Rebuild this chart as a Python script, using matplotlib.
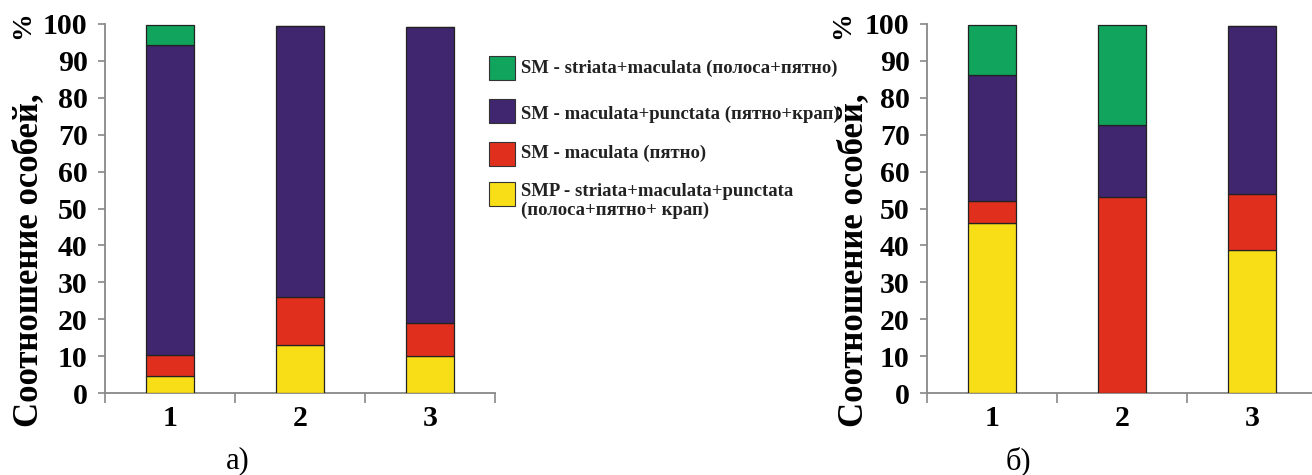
import numpy as np
import matplotlib.pyplot as plt
from matplotlib.patches import Rectangle

groups = ['1', '2', '3']
yticks = list(range(0, 101, 10))

# a) shares of individuals per morph, %
a_smp = [4.7, 12.9, 10.1]
a_m = [5.7, 13.0, 9.0]
a_mp = [83.9, 73.5, 80.2]
a_sm = [5.3, 0.0, 0.0]

# б)
b_smp = [46.2, 0.0, 38.8]
b_m = [5.9, 53.2, 15.2]
b_mp = [34.1, 19.4, 45.5]
b_sm = [13.4, 27.0, 0.0]

labels = ['SM - striata+maculata (полоса+пятно)',
          'SM - maculata+punctata (пятно+крап)',
          'SM - maculata (пятно)',
          'SMP - striata+maculata+punctata',
          '(полоса+пятно+ крап)']
colors = ['#10a45c', '#40256f', '#e0301d', '#f8de17']

plt.rcParams['font.family'] = ['Liberation Serif', 'DejaVu Serif']

fig = plt.figure(figsize=(13.12, 4.75), dpi=100)
W, H = 1312.0, 475.0
ax1 = fig.add_axes([105 / W, 1 - 393 / H, 390 / W, 369 / H])
ax2 = fig.add_axes([927 / W, 1 - 393 / H, 390 / W, 369 / H])


def draw(ax, smp, m, mp, sm):
    x = np.arange(1, 4)
    bottom = np.zeros(3)
    for vals, c in zip([smp, m, mp, sm], colors[::-1]):
        vals = np.array(vals)
        ax.bar(x, vals, 0.37, bottom=bottom, color=c, edgecolor='#222222',
               linewidth=0.9, zorder=3)
        bottom += vals
    ax.set_xlim(0.5, 3.5)
    ax.set_ylim(0, 100)
    ax.set_yticks(yticks)
    ax.set_yticklabels([str(t) for t in yticks], fontsize=21.5, fontweight='bold')
    ax.set_xticks([0.5, 1.5, 2.5, 3.5])
    ax.set_xticklabels([])
    ax.set_xticks([1, 2, 3], minor=True)
    ax.set_xticklabels(groups, minor=True, fontsize=21.5, fontweight='bold')
    ax.tick_params(axis='x', which='major', direction='out', length=7,
                   color='#888888', width=1.2)
    ax.tick_params(axis='x', which='minor', length=0, pad=9)
    ax.tick_params(axis='y', direction='out', length=5, color='#888888',
                   width=1.2, pad=7.5)
    for s in ['top', 'right']:
        ax.spines[s].set_visible(False)
    for s in ['left', 'bottom']:
        ax.spines[s].set_color('#888888')
        ax.spines[s].set_linewidth(1.3)
    ax.patch.set_alpha(0)


draw(ax1, a_smp, a_m, a_mp, a_sm)
draw(ax2, b_smp, b_m, b_mp, b_sm)

# rotated axis titles
for xc, xp in [(29, 23), (854, 843)]:
    fig.text(xc / W, 1 - 427 / H, 'Соотношение особей,', rotation=90,
             fontsize=25, fontweight='bold', ha='center', va='bottom')
    fig.text(xp / W, 1 - 25 / H, '%', rotation=90, fontsize=20,
             fontweight='bold', ha='center', va='center')

fig.text(238 / W, 1 - 461 / H, 'а)', fontsize=22, ha='center', va='center')
fig.text(1018 / W, 1 - 461 / H, 'б)', fontsize=22, ha='center', va='center')

# legend
box_y = [68, 111, 154, 194]
for yb, c in zip(box_y, colors):
    fig.patches.append(Rectangle((489 / W, 1 - (yb + 12) / H), 26 / W, 24 / H,
                                 transform=fig.transFigure, facecolor=c,
                                 edgecolor='#333333', linewidth=0.8))
text_y = [68, 114, 153, 192, 210]
for yt, lab in zip(text_y, labels):
    fig.text(521 / W, 1 - yt / H, lab, fontsize=13.5, fontweight='bold',
             ha='left', va='center', color='#222222')

fig.savefig('out.png', dpi=100)
